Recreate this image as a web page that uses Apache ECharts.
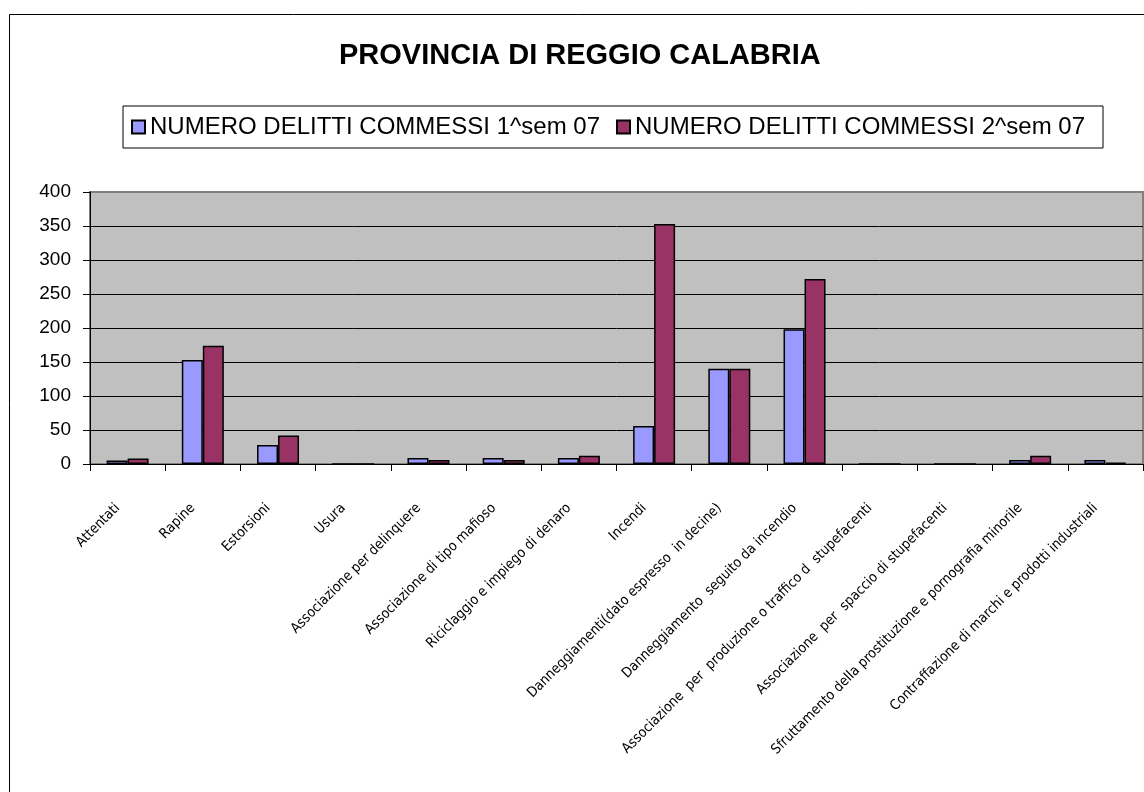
<!DOCTYPE html>
<html>
<head>
<meta charset="utf-8">
<script src="https://cdn.jsdelivr.net/npm/echarts@6/dist/echarts.min.js"></script>
<style>
  html, body { margin: 0; padding: 0; background: #fff; }
  #chart { width: 1144px; height: 792px; }
</style>
</head>
<body>
<div id="chart"></div>
<script>
// categorie (reati)
var categories = [
  'Attentati',
  'Rapine',
  'Estorsioni',
  'Usura',
  'Associazione per delinquere',
  'Associazione di tipo mafioso',
  'Riciclaggio e impiego di denaro',
  'Incendi',
  'Danneggiamenti(dato espresso  in decine)',
  'Danneggiamento  seguito da incendio',
  'Associazione  per  produzione o traffico d  stupefacenti',
  'Associazione  per  spaccio di stupefacenti',
  'Sfruttamento della prostituzione e pornografia minorile',
  'Contraffazione di marchi e prodotti industriali'
]
var seriesNames = ['NUMERO DELITTI COMMESSI 1^sem 07', 'NUMERO DELITTI COMMESSI 2^sem 07']
var sem1 = [5, 153, 28, 0, 9, 9, 9, 56, 140, 198, 0, 0, 6, 6]
var sem2 = [8, 174, 42, 0, 6, 6, 12, 353, 140, 272, 0, 0, 12, 2]
var yTicks = [0, 50, 100, 150, 200, 250, 300, 350, 400]

var myChart = echarts.init(document.getElementById('chart'))

var option = {
  backgroundColor: '#fff',
  animation: false,
  // cornice esterna
  graphic: [{
    type: 'rect',
    shape: { x: 9.5, y: 14.5, width: 1200, height: 900 },
    style: { fill: 'none', stroke: '#000', lineWidth: 1 },
    silent: true
  }],
  title: {
    text: 'PROVINCIA DI REGGIO CALABRIA',
    left: 334,
    top: 36,
    textStyle: {
      fontFamily: 'Liberation Sans',
      fontWeight: 'bold',
      fontSize: 29,
      color: '#000'
    }
  },
  legend: {
    data: seriesNames,
    top: 106,
    left: 123,
    icon: 'rect',
    itemWidth: 13,
    itemHeight: 13,
    itemGap: 16,
    padding: [9, 18, 9, 8],
    borderColor: '#000',
    borderWidth: 1,
    textStyle: {
      fontFamily: 'Liberation Sans',
      fontSize: 24,
      color: '#000'
    }
  },
  grid: {
    left: 90,
    top: 192,
    right: 1,
    bottom: 328,
    show: true,
    backgroundColor: '#C0C0C0',
    borderColor: '#808080',
    borderWidth: 2
  },
  xAxis: {
    type: 'category',
    data: categories,
    axisLine: { lineStyle: { color: '#000', width: 1 } },
    axisTick: { show: true, length: 7, lineStyle: { color: '#000' } },
    axisLabel: {
      interval: 0,
      rotate: 45,
      margin: 32,
      padding: [0, 14, 0, 0],
      fontFamily: 'Liberation Sans Narrow, DejaVu Sans Condensed, sans-serif',
      fontSize: 14,
      color: '#000'
    }
  },
  yAxis: {
    type: 'value',
    min: yTicks[0],
    max: yTicks[yTicks.length - 1],
    interval: 50,
    axisLine: { show: true, lineStyle: { color: '#000', width: 1 } },
    axisTick: { show: true, length: 7, lineStyle: { color: '#000' } },
    axisLabel: {
      margin: 19,
      fontFamily: 'Liberation Sans',
      fontSize: 19,
      color: '#000'
    },
    splitLine: { showMaxLine: false, lineStyle: { color: '#000', width: 1 } }
  },
  series: [
    {
      name: seriesNames[0],
      type: 'bar',
      data: sem1,
      barWidth: 21,
      barGap: '0%',
      itemStyle: { color: '#9999FF', borderColor: '#000', borderWidth: 1.5 }
    },
    {
      name: seriesNames[1],
      type: 'bar',
      data: sem2,
      barWidth: 21,
      barGap: '0%',
      itemStyle: { color: '#993366', borderColor: '#000', borderWidth: 1.5 }
    }
  ]
}

myChart.setOption(option)
</script>
</body>
</html>
